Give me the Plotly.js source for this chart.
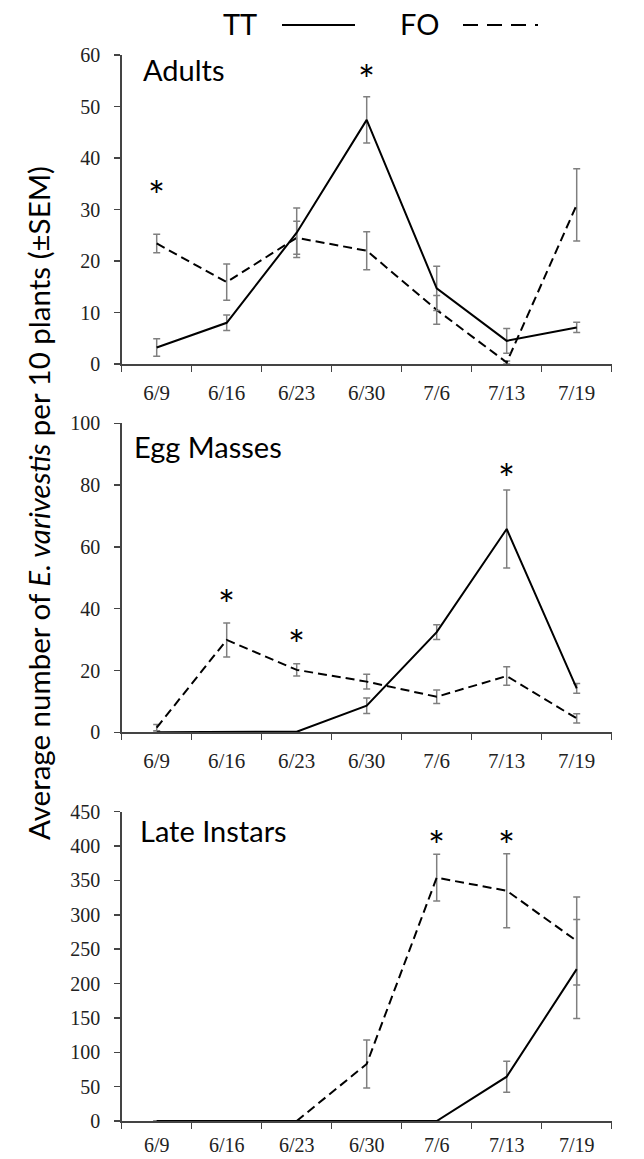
<!DOCTYPE html>
<html>
<head>
<meta charset="utf-8">
<script src="https://cdn.plot.ly/plotly-3.0.1.min.js"></script>
<style>html,body{margin:0;padding:0;background:#fff}#chart{width:644px;height:1159px}</style>
</head>
<body>
<div id="chart"></div>
<script>
// ---- data ----
const dates = ['6/9','6/16','6/23','6/30','7/6','7/13','7/19'];

const adultsTT    = [3.2, 8.0, 25.5, 47.4, 14.7, 4.5, 7.1];
const adultsTTerr = [1.7, 1.5, 4.8, 4.5, 4.3, 2.4, 1.0];
const adultsFO    = [23.4, 15.9, 24.5, 22.0, 10.5, 0.3, 30.9];
const adultsFOerr = [1.8, 3.5, 3.2, 3.7, 2.8, 0.3, 7.0];

const eggTT    = [0, 0, 0.2, 8.6, 32.4, 65.8, 14.2];
const eggTTerr = [0, 0, 0, 2.5, 2.4, 12.6, 1.6];
const eggFO    = [1.5, 29.9, 20.2, 16.4, 11.5, 18.2, 4.5];
const eggFOerr = [1.0, 5.5, 2.0, 2.4, 2.2, 3.0, 1.5];

const lateTT    = [0, 0, 0, 0, 0, 64.5, 221];
const lateTTerr = [0, 0, 0, 0, 0, 22.5, 72];
const lateFO    = [0, 0, 0, 83, 354, 335, 262];
const lateFOerr = [0, 0, 0, 35, 34, 54, 64];

const adultsStarX = ['6/9','6/30'];
const adultsStarY = [35, 57.4];
const eggStarX = ['6/16','6/23','7/13'];
const eggStarY = [45, 32, 86];
const lateStarX = ['7/6','7/13'];
const lateStarY = [418, 418];

const panelNames = ['Adults','Egg Masses','Late Instars'];
const seriesNames = ['TT','FO'];
const yTitle = 'Average number of <i>E. varivestis</i> per 10 plants (±SEM)';

// ---- styling ----
const W = 644, H = 1159;
const sans = 'Lato, "Open Sans", sans-serif';
const serif = '"Liberation Serif", "DejaVu Serif", serif';
const errColor = '#7f7f7f';
const dashPat = '9px,5px';

function lineTrace(y, err, dashed, axisIdx) {
  const s = axisIdx === 1 ? '' : String(axisIdx);
  return {
    x: dates, y: y, type: 'scatter', mode: 'lines',
    xaxis: 'x' + s, yaxis: 'y' + s,
    line: {color: '#000', width: 2, dash: dashed ? dashPat : 'solid'},
    error_y: {type: 'data', array: err, visible: true, color: errColor, thickness: 1.5, width: 3.5},
    showlegend: false, hoverinfo: 'skip'
  };
}

const traces = [
  lineTrace(adultsFO, adultsFOerr, true, 1),
  lineTrace(adultsTT, adultsTTerr, false, 1),
  lineTrace(eggFO, eggFOerr, true, 2),
  lineTrace(eggTT, eggTTerr, false, 2),
  lineTrace(lateFO, lateFOerr, true, 3),
  lineTrace(lateTT, lateTTerr, false, 3)
];

// pixel geometry (from top) of each plot area
const xDom = [121.7 / W, 611.7 / W];
const panels = [
  {top: 55, bottom: 364, range: [0, 60], dtick: 10, fs: 21, standoff: 9},
  {top: 423.3, bottom: 732.3, range: [0, 100], dtick: 20, fs: 21, standoff: 9},
  {top: 811.7, bottom: 1121, range: [0, 450], dtick: 50, fs: 20, standoff: 5}
];
const axColor = '#444';

const layout = {
  width: W, height: H,
  margin: {l: 0, r: 0, t: 0, b: 0},
  paper_bgcolor: '#fff', plot_bgcolor: '#fff',
  showlegend: false,
  annotations: [], shapes: []
};

panels.forEach((p, i) => {
  const s = i === 0 ? '' : String(i + 1);
  layout['xaxis' + s] = {
    domain: xDom, anchor: 'y' + s, type: 'category',
    categoryorder: 'array', categoryarray: dates,
    range: [-0.5, 6.5], tickson: 'boundaries',
    ticks: 'outside', ticklen: 6, tickwidth: 1.5, tickcolor: axColor,
    showline: true, linecolor: axColor, linewidth: 1.5,
    showgrid: false, zeroline: false,
    tickfont: {family: serif, size: p.fs, color: '#222'},
    ticklabelstandoff: p.standoff
  };
  layout['yaxis' + s] = {
    domain: [1 - p.bottom / H, 1 - p.top / H], anchor: 'x' + s,
    range: p.range, dtick: p.dtick, tick0: 0,
    ticks: 'outside', ticklen: 6, tickwidth: 1.5, tickcolor: axColor,
    showline: true, linecolor: axColor, linewidth: 1.5,
    showgrid: false, zeroline: false,
    tickfont: {family: serif, size: 20, color: '#222'},
    ticklabelstandoff: 10
  };
});

// significance asterisks
function addStars(xs, ys, idx) {
  const s = idx === 1 ? '' : String(idx);
  xs.forEach((x, k) => {
    layout.annotations.push({
      text: '*', xref: 'x' + s, yref: 'y' + s, x: x, y: ys[k],
      xanchor: 'center', yanchor: 'middle', yshift: -12, showarrow: false,
      font: {family: sans, size: 40, color: '#000'}
    });
  });
}
addStars(adultsStarX, adultsStarY, 1);
addStars(eggStarX, eggStarY, 2);
addStars(lateStarX, lateStarY, 3);

// panel labels
const labelPos = [{x: 141, y: 69}, {x: 132, y: 446}, {x: 138, y: 830}];
panelNames.forEach((n, i) => {
  layout.annotations.push({
    text: n, xref: 'paper', yref: 'paper',
    x: labelPos[i].x / W, y: 1 - labelPos[i].y / H,
    xanchor: 'left', yanchor: 'middle', showarrow: false,
    font: {family: sans, size: 29, color: '#000'}
  });
});

// y title
layout.annotations.push({
  text: yTitle, xref: 'paper', yref: 'paper',
  x: 38 / W, y: 1 - 503 / H, textangle: -90,
  xanchor: 'center', yanchor: 'middle', showarrow: false,
  font: {family: sans, size: 29.5, color: '#000'}
});

// legend
const legY = 1 - 23 / H;
layout.annotations.push({text: seriesNames[0], xref: 'paper', yref: 'paper', x: 221 / W, y: legY,
  xanchor: 'left', yanchor: 'middle', showarrow: false, font: {family: sans, size: 29, color: '#000'}});
layout.annotations.push({text: seriesNames[1], xref: 'paper', yref: 'paper', x: 398 / W, y: legY,
  xanchor: 'left', yanchor: 'middle', showarrow: false, font: {family: sans, size: 29, color: '#000'}});
layout.shapes.push({type: 'line', xref: 'paper', yref: 'paper', x0: 282 / W, x1: 355 / W, y0: 1 - 25 / H, y1: 1 - 25 / H,
  line: {color: '#000', width: 2}});
layout.shapes.push({type: 'line', xref: 'paper', yref: 'paper', x0: 463 / W, x1: 538 / W, y0: 1 - 25 / H, y1: 1 - 25 / H,
  line: {color: '#000', width: 2, dash: '15px,9px'}});

Plotly.newPlot('chart', traces, layout, {displayModeBar: false, staticPlot: true});
</script>
</body>
</html>
